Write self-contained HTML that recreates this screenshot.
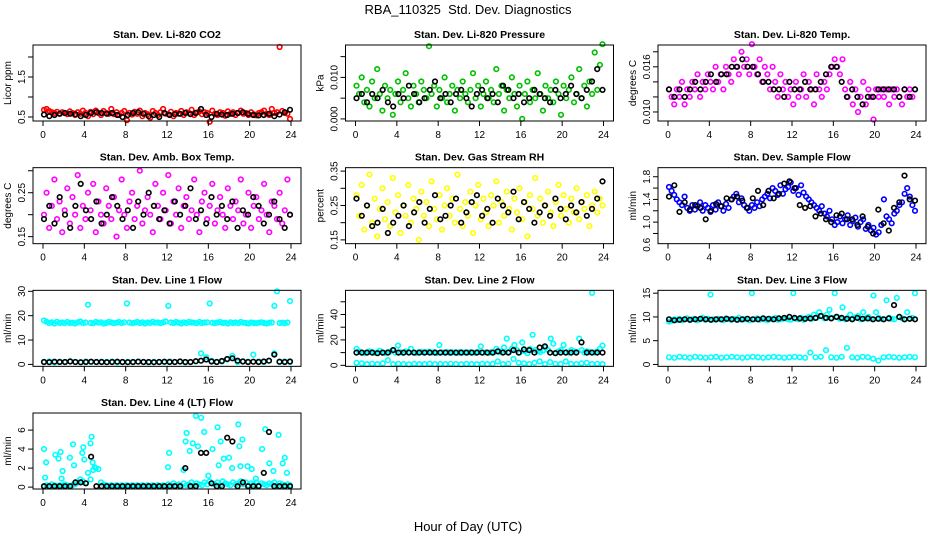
<!DOCTYPE html>
<html><head><meta charset="utf-8"><style>
html,body{margin:0;padding:0;background:#fff}
svg{display:block;font-family:"Liberation Sans",sans-serif}
</style></head><body>
<svg id="chart" width="936" height="540" viewBox="0 0 936 540">
<rect width="936" height="540" fill="#fff"/>
<text x="468" y="14" text-anchor="middle" font-size="13" style="white-space:pre">RBA_110325  Std. Dev. Diagnostics</text>
<text x="468" y="531" text-anchor="middle" font-size="13">Hour of Day (UTC)</text>
</svg>
<script>
const xTicks=[0,4,8,12,16,20,24];
const co2Col=[0.68,0.7,0.65,0.62,0.6,0.63,0.58,0.62,0.6,0.57,0.64,0.6,0.55,0.62,0.58,0.66,0.6,0.52,0.63,0.57,0.66,0.6,0.55,0.65,0.6,0.58,0.7,0.57,0.62,0.55,0.6,0.65,0.42,0.6,0.56,0.63,0.58,0.66,0.52,0.6,0.57,0.48,0.65,0.6,0.55,0.62,0.7,0.58,0.57,0.63,0.52,0.6,0.58,0.65,0.55,0.62,0.6,0.68,0.55,0.61,0.64,0.57,0.62,0.6,0.38,0.66,0.58,0.55,0.62,0.6,0.53,0.64,0.58,0.62,0.55,0.6,0.66,0.58,0.6,0.55,0.62,0.57,0.54,0.6,0.62,0.66,0.58,0.55,0.7,0.6,0.62,2.25,0.65,0.6,0.58,0.45];
const co2Blk=[0.56,0.52,0.55,0.58,0.6,0.58,0.57,0.52,0.55,0.6,0.62,0.6,0.58,0.6,0.55,0.5,0.55,0.6,0.62,0.58,0.52,0.55,0.5,0.6,0.55,0.57,0.58,0.6,0.57,0.6,0.7,0.55,0.5,0.58,0.56,0.55,0.58,0.6,0.62,0.58,0.55,0.54,0.55,0.58,0.52,0.56,0.62,0.68];
const presCol=[0.008,0.006,0.01,0.004,0.007,0.003,0.009,0.005,0.012,0.006,0.002,0.008,0.005,0.007,0.001,0.006,0.009,0.004,0.007,0.011,0.005,0.003,0.008,0.006,0.004,0.009,0.007,0.005,0.0175,0.006,0.008,0.003,0.007,0.005,0.01,0.004,0.006,0.008,0.002,0.007,0.005,0.009,0.006,0.004,0.007,0.011,0.005,0.008,0.003,0.006,0.009,0.005,0.007,0.004,0.012,0.006,0.008,0.002,0.007,0.005,0.01,0.006,0.003,0.008,0.0,0.006,0.009,0.004,0.007,0.005,0.011,0.006,0.002,0.008,0.005,0.007,0.004,0.009,0.006,0.001,0.008,0.005,0.007,0.01,0.004,0.006,0.012,0.005,0.008,0.003,0.009,0.006,0.016,0.007,0.013,0.018];
const presBlk=[0.005,0.006,0.004,0.006,0.005,0.007,0.004,0.003,0.006,0.005,0.008,0.006,0.004,0.005,0.007,0.009,0.005,0.006,0.004,0.006,0.007,0.005,0.003,0.006,0.007,0.005,0.006,0.004,0.008,0.007,0.005,0.006,0.004,0.005,0.007,0.006,0.005,0.004,0.007,0.005,0.006,0.008,0.006,0.005,0.007,0.009,0.012,0.007];
const tempCol=[0.013,0.012,0.011,0.013,0.012,0.014,0.011,0.013,0.012,0.014,0.013,0.015,0.012,0.014,0.013,0.015,0.014,0.013,0.016,0.014,0.015,0.013,0.016,0.015,0.014,0.017,0.016,0.015,0.018,0.016,0.017,0.015,0.019,0.016,0.015,0.017,0.014,0.016,0.015,0.013,0.016,0.014,0.012,0.015,0.013,0.014,0.012,0.013,0.011,0.014,0.012,0.013,0.015,0.012,0.014,0.013,0.011,0.015,0.013,0.012,0.014,0.013,0.015,0.016,0.017,0.016,0.015,0.017,0.013,0.012,0.014,0.011,0.013,0.010,0.012,0.014,0.011,0.013,0.012,0.009,0.013,0.012,0.013,0.012,0.013,0.011,0.013,0.012,0.013,0.012,0.011,0.013,0.012,0.013,0.012,0.013];
const tempBlk=[0.013,0.012,0.013,0.012,0.013,0.014,0.013,0.014,0.015,0.014,0.015,0.015,0.016,0.016,0.017,0.016,0.016,0.015,0.014,0.014,0.013,0.013,0.012,0.014,0.013,0.013,0.014,0.013,0.013,0.014,0.015,0.016,0.016,0.014,0.012,0.013,0.012,0.011,0.012,0.012,0.013,0.013,0.013,0.013,0.012,0.013,0.012,0.013];
const ambCol=[0.2,0.25,0.17,0.22,0.28,0.19,0.23,0.16,0.21,0.26,0.18,0.24,0.2,0.29,0.17,0.22,0.19,0.25,0.21,0.27,0.16,0.23,0.2,0.18,0.26,0.22,0.19,0.24,0.15,0.21,0.28,0.2,0.17,0.23,0.25,0.19,0.22,0.3,0.18,0.21,0.24,0.2,0.16,0.27,0.22,0.19,0.25,0.21,0.29,0.18,0.23,0.2,0.26,0.17,0.22,0.24,0.19,0.21,0.28,0.2,0.16,0.23,0.25,0.19,0.22,0.27,0.18,0.21,0.24,0.2,0.17,0.26,0.22,0.19,0.23,0.21,0.28,0.18,0.2,0.25,0.17,0.22,0.24,0.19,0.21,0.27,0.2,0.16,0.23,0.22,0.19,0.25,0.18,0.21,0.28,0.2];
const ambBlk=[0.19,0.22,0.18,0.24,0.2,0.17,0.22,0.27,0.21,0.19,0.23,0.18,0.2,0.24,0.22,0.19,0.21,0.17,0.23,0.2,0.25,0.22,0.19,0.21,0.18,0.23,0.2,0.22,0.26,0.19,0.21,0.18,0.24,0.2,0.22,0.19,0.23,0.17,0.21,0.2,0.24,0.22,0.18,0.2,0.23,0.19,0.17,0.2];
const rhCol=[0.28,0.22,0.31,0.18,0.25,0.34,0.2,0.27,0.16,0.24,0.3,0.21,0.26,0.19,0.33,0.23,0.28,0.17,0.25,0.22,0.31,0.2,0.27,0.24,0.15,0.29,0.22,0.26,0.19,0.32,0.24,0.21,0.28,0.18,0.25,0.3,0.22,0.27,0.2,0.34,0.24,0.19,0.26,0.22,0.29,0.17,0.25,0.31,0.21,0.27,0.23,0.19,0.28,0.25,0.32,0.2,0.26,0.22,0.29,0.24,0.18,0.27,0.23,0.3,0.21,0.26,0.16,0.28,0.24,0.33,0.22,0.27,0.2,0.25,0.29,0.23,0.19,0.26,0.31,0.22,0.28,0.24,0.2,0.27,0.23,0.3,0.21,0.26,0.24,0.28,0.19,0.25,0.29,0.23,0.27,0.25];
const rhBlk=[0.27,0.22,0.25,0.19,0.2,0.24,0.17,0.2,0.22,0.25,0.19,0.23,0.26,0.2,0.24,0.28,0.21,0.22,0.25,0.27,0.2,0.23,0.26,0.28,0.22,0.24,0.2,0.27,0.25,0.23,0.29,0.21,0.26,0.24,0.2,0.23,0.25,0.22,0.27,0.24,0.21,0.25,0.23,0.26,0.22,0.24,0.27,0.32];
const flowCol=[1.62,1.55,1.48,1.4,1.35,1.3,1.45,1.25,1.2,1.3,1.22,1.28,1.35,1.2,1.3,1.25,1.18,1.3,1.22,1.35,1.28,1.2,1.32,1.25,1.4,1.45,1.5,1.35,1.42,1.3,1.25,1.2,1.3,1.25,1.35,1.28,1.4,1.45,1.5,1.42,1.6,1.55,1.48,1.65,1.5,1.58,1.62,1.7,1.55,1.6,1.48,1.65,1.52,1.45,1.4,1.35,1.3,1.25,1.2,1.28,1.15,1.1,1.2,1.05,0.95,1.0,1.1,0.98,1.05,1.12,0.95,1.02,1.08,0.92,1.0,1.05,0.88,0.95,0.85,0.9,0.78,0.82,0.95,1.4,1.1,1.05,0.98,1.15,1.2,1.3,1.35,1.5,1.6,1.45,1.3,1.2];
const flowBlk=[1.45,1.65,1.18,1.35,1.22,1.3,1.25,1.05,1.2,1.32,1.28,1.42,1.4,1.45,1.38,1.25,1.42,1.55,1.3,1.55,1.42,1.5,1.68,1.72,1.6,1.3,1.25,1.28,1.1,1.15,1.05,1.0,1.12,1.15,1.05,1.05,0.95,1.1,0.92,0.8,1.22,0.98,0.85,1.25,1.35,1.82,1.4,1.38];
const l1Hi=[18,17.5,17,17.3,16.8,17.5,17,17.2,16.9,17.4,17,17.1,16.8,17.3,17.6,17,17.2,24.5,17,16.9,17.4,17.1,17.3,16.8,17,17.5,17.2,16.9,17.1,17.4,17,17.3,25,17.2,16.9,17.1,17.4,17,17.3,16.8,17.2,17,17.5,17.1,17.2,16.9,17.3,17.6,24,17.2,17,17.4,17.1,16.8,17.3,17,17.5,17.2,17.1,16.9,17.4,17,17.2,17.3,25,17.1,16.9,17.2,17.4,17,17.1,16.8,17.3,17,17.2,16.9,17.4,17.1,17,16.8,17.2,17,16.9,17.1,17.3,17,16.8,17.1,17.2,24,30,17,17.1,16.9,17.2,26];
const l1Lo=[1,1.2,0.8,1.1,0.9,1.3,1,0.8,1.2,1,0.9,1.1,1,1.2,0.8,1,1.1,0.9,1.2,1,0.8,1.1,1,0.9,1.2,1,1.1,0.8,1,1.2,4.5,3,1.5,1,1.2,2,3.5,1,1.3,1.1,4,1.2,1,1.5,4.5,1,1.2,1];
const l1Blk=[1,0.9,1.1,1,1,1.2,1,0.9,1,1.1,1,1,0.9,1,1.1,1,0.9,1,1.1,1,1,0.9,1,1.1,1,1,1.2,1,1,1.3,1.5,2,1.2,1,1.4,2.2,2.5,1.5,1.2,1,1.1,1,1.2,1.5,4,1.1,1,1.2];
const l2Hi=[13,11,10,9.5,10,11,10.5,9.8,10.2,11.5,10,9.6,10.3,10.8,12,10,15.5,10.2,9.8,11,10.5,13,10,9.7,10.2,10.6,9.9,10.3,10.8,10,10.4,9.6,16,10.2,10,10.5,9.8,10.3,10.1,9.7,10.5,10,10.2,9.9,10.4,10.1,9.8,10.5,15,10,10.2,9.6,10.3,10,13,10.5,11,14,21,10.5,13,16,12,10,18,11,9.5,13,24,12,11,10.5,11.5,14,12,21,17,10,11,12,16,10.3,10,12,11,10.5,21,12,10,11,10.5,57,10.2,11,13,15.5];
const l2Lo=[2,1.5,1,1.2,1,1.5,4,1,1.2,1,0.8,1.1,1,1,1.3,0.9,1.1,1,1.2,1,0.8,1.1,1,0.9,1.2,1,1.1,3,1,1.2,5,2,1.5,1,2,3,1,2.5,1.2,1,3,1.1,1,1.5,2,1,1.2,1];
const l2Blk=[10,10,10,10,9.5,10,10,12,10,10,10,10,10,10,10,10,10,10,10,10,10,10,10,10,10,10,10,11,10,10,12,10,12.5,12,10,14,15,10,9.5,10,10,10,10,18,10,10,10,10];
const l3Hi=[9,9.2,9.5,9.4,9.6,9.3,9.5,9.7,9.4,9.5,9.6,9.3,9.5,9.8,9.4,9.6,14.7,9.5,9.4,9.6,9.5,9.3,9.7,9.5,9.4,9.6,9.5,9.8,9.4,9.5,9.6,9.3,15,9.5,9.7,9.4,9.6,9.5,9.3,9.6,9.5,9.8,9.4,9.5,9.6,9.7,9.5,9.4,15,9.6,9.5,9.8,9.4,9.7,10,9.6,10.5,9.8,11,10.2,9.7,10.5,11.5,9.8,15,10,9.6,12,9.5,9.8,10.5,9.6,9.9,10.2,9.5,11,9.7,10,9.6,14.5,11,9.8,9.6,9.5,13.5,9.8,9.6,9.5,14,10,9.7,9.5,11,9.6,9.8,15];
const l3Lo=[1.5,1.4,1.6,1.5,1.4,1.6,1.5,1.4,1.5,1.6,1.4,1.5,1.6,1.5,1.4,1.5,1.6,1.5,1.4,1.5,1.6,1.5,1.4,1.5,1.6,1.5,1.4,2.5,1.5,1.6,3,1.5,1.4,1.6,3.5,1.5,1.4,1.6,1.5,1.2,0.8,1.5,1.6,1.5,1.4,1.5,1.6,1.5];
const l3Blk=[9.5,9.3,9.4,9.5,9.4,9.5,9.6,9.5,9.4,9.5,9.5,9.6,9.5,9.4,9.5,9.6,9.5,9.5,9.7,9.6,9.5,9.7,9.8,10,9.8,9.7,9.6,9.7,9.8,10.2,9.8,9.7,10,9.8,9.6,9.5,9.8,9.6,9.7,9.5,9.6,9.5,9.7,12.5,10,9.5,9.6,9.5];
const l4Base=[0.1,0.2,0.1,0.3,0.2,0.1,0.2,0.1,0.3,0.2,0.1,0.2,0.3,0.5,0.8,0.6,0.4,1.5,0.8,1.8,2,1.9,0.5,0.3,0.2,0.1,0.2,0.1,0.2,0.1,0.2,0.1,0.2,0.1,0.2,0.1,0.2,0.1,0.2,0.1,0.2,0.1,0.2,0.1,0.2,0.1,0.2,0.1,0.3,0.2,0.4,0.2,0.3,0.1,0.4,0.2,0.3,0.5,0.2,0.4,0.3,0.2,0.5,0.3,0.6,0.4,0.3,0.5,0.2,0.6,0.4,0.3,0.2,0.5,0.3,0.4,0.6,0.3,0.5,0.2,0.4,0.3,0.5,0.2,0.4,0.3,0.2,0.4,0.3,0.5,0.2,0.4,0.3,0.2,0.3,0.2];
const l4HiTime=[0.1,0.2,0.3,1.2,1.5,1.7,1.9,1.8,2.6,2.9,3,3.8,3.9,4,4.6,4.7,4.8,5,12.1,12.2,13.6,13.8,13.9,14.2,14.5,14.8,15,15.3,15.6,16,16.4,16.9,17,17.2,17.5,18,18.3,18.9,19,19.1,19.3,19.8,20.2,20.6,21.2,21.5,21.9,22.3,22.8,23.2,23.4,23.6];
const l4HiVal=[4,1,2.6,3.4,3,3.7,1.7,0.9,3.1,4.5,2.3,3.6,4.2,2.9,4.6,5.3,2.6,2.1,2.1,3.6,1.8,4.8,5.7,3.8,4.6,7.5,4.3,7.3,5.8,1.2,4,6.3,2.3,4.8,3,3.1,2,6.6,4.3,2.2,5,2.2,1.9,0.9,4,6.1,2.5,1.7,5.5,2.5,3.1,1.5];
const l4Blk=[0.1,0.1,0.1,0.1,0.1,0.1,0.5,0.5,0.4,3.2,0.1,0.1,0.1,0.1,0.1,0.1,0.1,0.1,0.1,0.1,0.1,0.1,0.1,0.1,0.1,0.1,0.1,2,0.1,0.1,3.6,3.6,0.4,0.1,0.1,5.2,4.8,0.1,0.5,0.1,0.1,0.1,1.5,5.8,0.1,0.1,0.1,0.1];

const NS='http://www.w3.org/2000/svg';
const svg=document.getElementById('chart');
function mk(tag,attrs,parent){const e=document.createElementNS(NS,tag);for(const k in attrs)e.setAttribute(k,attrs[k]);(parent||svg).appendChild(e);return e;}
function idxTimes(n){const a=[];for(let i=0;i<n;i++)a.push(0.1+i*23.8/(n-1));return a;}

const panels=[
 {t:'Stan. Dev. Li-820 CO2',yl:'Licor ppm',c:0,r:0,lo:0.4,hi:2.3,ticks:[0.5,1,1.5,2],labs:[0.5,1.5],fmt:1,series:[['#ff0000',null,co2Col],['#000',null,co2Blk]]},
 {t:'Stan. Dev. Li-820 Pressure',yl:'kPa',c:1,r:0,lo:-0.0005,hi:0.0178,ticks:[0,0.005,0.01,0.015],labs:[0,0.01],fmt:3,series:[['#00c000',null,presCol],['#000',null,presBlk]]},
 {t:'Stan. Dev. Li-820 Temp.',yl:'degrees C',c:2,r:0,lo:0.0088,hi:0.0189,ticks:[0.01,0.012,0.014,0.016,0.018],labs:[0.01,0.016],fmt:3,series:[['#ff00ff',null,tempCol],['#000',null,tempBlk]]},
 {t:'Stan. Dev. Amb. Box Temp.',yl:'degrees C',c:0,r:1,lo:0.134,hi:0.307,ticks:[0.15,0.2,0.25,0.3],labs:[0.15,0.25],fmt:2,series:[['#ff00ff',null,ambCol],['#000',null,ambBlk]]},
 {t:'Stan. Dev. Gas Stream RH',yl:'percent',c:1,r:1,lo:0.139,hi:0.36,ticks:[0.15,0.2,0.25,0.3,0.35],labs:[0.15,0.25,0.35],fmt:2,series:[['#ffff00',null,rhCol],['#000',null,rhBlk]]},
 {t:'Stan. Dev. Sample Flow',yl:'ml/min',c:2,r:1,lo:0.62,hi:1.96,ticks:[0.6,0.8,1,1.2,1.4,1.6,1.8],labs:[0.6,1,1.4,1.8],fmt:1,series:[['#0000ff',null,flowCol],['#000',null,flowBlk]]},
 {t:'Stan. Dev. Line 1 Flow',yl:'ml/min',c:0,r:2,lo:-0.8,hi:30.4,ticks:[0,10,20,30],labs:[0,10,20,30],fmt:0,series:[['#00ffff',null,l1Hi],['#00ffff',null,l1Lo],['#000',null,l1Blk]]},
 {t:'Stan. Dev. Line 2 Flow',yl:'ml/min',c:1,r:2,lo:-0.8,hi:59,ticks:[0,10,20,30,40,50],labs:[0,20,40],fmt:0,series:[['#00ffff',null,l2Hi],['#00ffff',null,l2Lo],['#000',null,l2Blk]]},
 {t:'Stan. Dev. Line 3 Flow',yl:'ml/min',c:2,r:2,lo:-0.4,hi:15.6,ticks:[0,5,10,15],labs:[0,5,10,15],fmt:0,series:[['#00ffff',null,l3Hi],['#00ffff',null,l3Lo],['#000',null,l3Blk]]},
 {t:'Stan. Dev. Line 4 (LT) Flow',yl:'ml/min',c:0,r:3,lo:-0.2,hi:7.8,ticks:[0,2,4,6],labs:[0,2,4,6],fmt:0,series:[['#00ffff',null,l4Base],['#00ffff',l4HiTime,l4HiVal],['#000',null,l4Blk]]}
];

panels.forEach((p,pi)=>{
 const L=33+312.5*p.c, R=L+268, T=45+122.67*p.r, B=T+76;
 const X0=L+10, XS=248/24;
 const xs=v=>X0+v*XS;
 const ys=v=>B-(v-p.lo)/(p.hi-p.lo)*(B-T);
 const g=mk('g',{});
 
 
 const tt=mk('text',{x:(L+R)/2,y:T-7,'text-anchor':'middle','font-size':'10.5','font-weight':'bold'},g);
 tt.textContent=p.t;
 
 
 p.series.forEach((s,si)=>{
  const sg=mk('g',{fill:'none',stroke:s[0],'stroke-width':'1.6'},g);
  
  
  const vals=s[2], times=s[1]||idxTimes(vals.length);
  vals.forEach((v,i)=>{
   const c=mk('circle',{cx:xs(times[i]).toFixed(1),cy:ys(v).toFixed(1),r:'2.3'},sg);
   
   
  });
 });
 const box=mk('rect',{x:L,y:T,width:R-L,height:B-T,fill:'none',stroke:'#000','stroke-width':'1'},g);
 
 
 const xa=mk('g',{},g);
 
 
 xTicks.forEach(t=>{
  mk('line',{x1:xs(t),x2:xs(t),y1:B,y2:B+5,stroke:'#000'},xa);
  const lt=mk('text',{x:xs(t),y:B+17,'text-anchor':'middle','font-size':'10'},xa);
  lt.textContent=t;
  
  
 });
 const ya=mk('g',{},g);
 
 
 p.ticks.forEach(t=>{
  if(ys(t)<T-0.5||ys(t)>B+0.5)return;
  mk('line',{x1:L,x2:L-5,y1:ys(t),y2:ys(t),stroke:'#000'},ya);
 });
 p.labs.forEach(t=>{
  const y=ys(t);
  const lt=mk('text',{x:0,y:0,'text-anchor':'middle','font-size':'10',transform:`translate(${L-8},${y}) rotate(-90)`},ya);
  lt.textContent=t.toFixed(p.fmt);
  
  
 });
 const yl=mk('text',{x:0,y:0,'text-anchor':'middle','font-size':'10',transform:`translate(${L-22},${(T+B)/2}) rotate(-90)`},g);
 yl.textContent=p.yl;
 
 
});
</script>
</body></html>
